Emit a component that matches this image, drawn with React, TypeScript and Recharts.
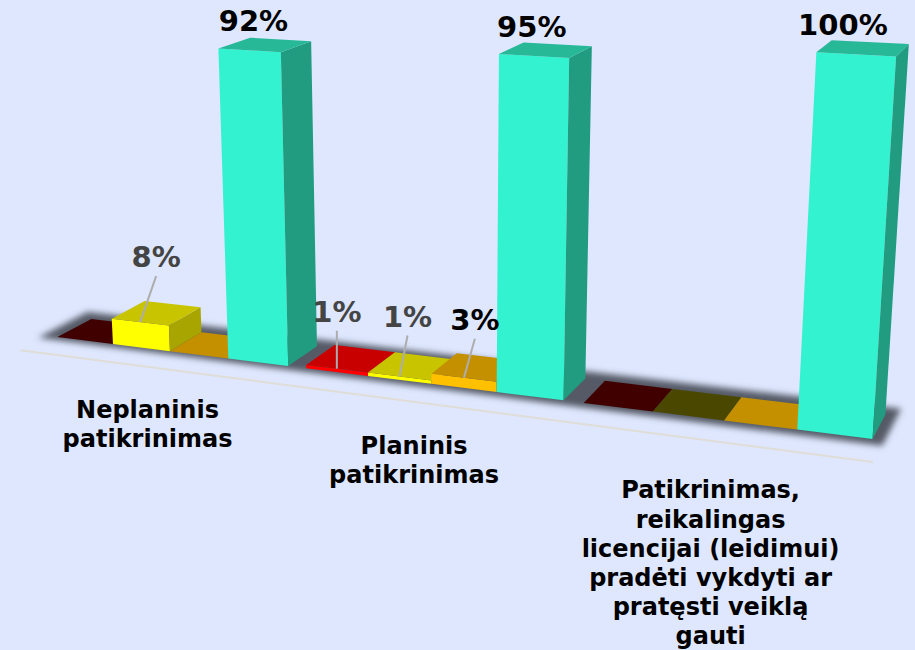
import { BarChart, Bar, XAxis, YAxis, LabelList } from "recharts";

const categories = ["Neplaninis patikrinimas", "Planinis patikrinimas", "Patikrinimas gauti"];
const categoryLines = [
  ["Neplaninis", "patikrinimas"],
  ["Planinis", "patikrinimas"],
  ["Patikrinimas,", "reikalingas", "licencijai (leidimui)", "pradėti vykdyti ar", "pratęsti veiklą", "gauti"],
];
const redValues = [0, 1, 0];
const yellowValues = [8, 1, 0];
const amberValues = [0, 3, 0];
const tealValues = [92, 95, 100];

const data = categories.map((name, i) => ({
  name,
  red: redValues[i],
  yellow: yellowValues[i],
  amber: amberValues[i],
  teal: tealValues[i],
}));

const WIDTH = 915;
const HEIGHT = 650;
const BAR_SIZE = 71;
const LEFT_PAD = (WIDTH / 3 - 4 * BAR_SIZE) / 2;

// vanishing points of the 3d look, taken from the bar edges
const VP_U = [-4500, -233];
const VP_H = [450, 7300];
const VP_D = [1262, -302];
const ORIGIN = [57, 337];
const U_RATE = -1.697e-4;
const H_RATE = -6.9e-5;
const BAR_DEPTH = 0.029;

function project(u: number, h: number, d: number) {
  const t = u * U_RATE;
  const s = h * H_RATE;
  const w = 1 + t + s + d;
  return {
    x: (ORIGIN[0] + t * VP_U[0] + s * VP_H[0] + d * VP_D[0]) / w,
    y: (ORIGIN[1] + t * VP_U[1] + s * VP_H[1] + d * VP_D[1]) / w,
  };
}

const pts = (list: { x: number; y: number }[]) => list.map((p) => `${p.x},${p.y}`).join(" ");

const palette = {
  red: { front: "#ff0000", top: "#c80000", side: "#a80000", zero: "#400000" },
  yellow: { front: "#ffff00", top: "#c8c400", side: "#a8a400", zero: "#4a4800" },
  amber: { front: "#ffc000", top: "#c49000", side: "#a88000", zero: "#c49000" },
  teal: { front: "#33f2cf", top: "#27b898", side: "#219c80", zero: "#27b898" },
};
type SeriesKey = keyof typeof palette;

function Bar3D(props: any) {
  const { x, width, height, series } = props;
  const c = palette[series as SeriesKey];
  const u0 = x - LEFT_PAD;
  const u1 = u0 + width;
  const h = height;
  const a = project(u0, h, 0);
  const b = project(u1, h, 0);
  const e = project(u1, h, BAR_DEPTH);
  const f = project(u0, h, BAR_DEPTH);
  if (!h) {
    return <polygon points={pts([a, b, e, f])} fill={c.zero} />;
  }
  const a0 = project(u0, 0, 0);
  const b0 = project(u1, 0, 0);
  const e0 = project(u1, 0, BAR_DEPTH);
  return (
    <g>
      <polygon points={pts([a0, b0, b, a])} fill={c.front} />
      <polygon points={pts([b0, e0, e, b])} fill={c.side} />
      <polygon points={pts([a, b, e, f])} fill={c.top} />
    </g>
  );
}

// leader line end relative to the bar's front top edge: dx, rise
const leaders: Record<string, number[]> = {
  "yellow-8": [16, 46],
  "red-1": [0, 38],
  "yellow-1": [8, 41],
  "amber-3": [11, 39],
};
// the big labels drift left of the bar centre further along the floor
const tealLabelShift: Record<number, number> = { 92: 4, 95: -2, 100: -13 };

function BarLabel(props: any) {
  const { x, width, height, value, series } = props;
  if (!value) return null;
  const u = x - LEFT_PAD + width / 2;
  const top = project(u, height, 0);
  const lead = leaders[`${series}-${value}`];
  const dark = series === "teal" || series === "amber";
  const tx = lead ? top.x + lead[0] : top.x + (tealLabelShift[value] ?? 0);
  const ty = lead ? top.y - lead[1] - 9 : top.y - 19;
  return (
    <g>
      {lead && <line x1={top.x} y1={top.y} x2={tx} y2={top.y - lead[1]} stroke="#adadad" strokeWidth={2} />}
      <text
        x={tx}
        y={ty}
        textAnchor="middle"
        fontFamily="DejaVu Sans"
        fontWeight="bold"
        fontSize={29}
        fill={dark ? "#000000" : "#444444"}
      >
        {value}%
      </text>
    </g>
  );
}

const tickShift = [
  [-22, 59],
  [-17, 62],
  [-13, 70],
];

function CategoryTick(props: any) {
  const { x, index } = props;
  const base = project(x - LEFT_PAD, 0, 0);
  const lines = categoryLines[index];
  return (
    <text
      x={base.x + tickShift[index][0]}
      y={base.y + tickShift[index][1] + 8}
      textAnchor="middle"
      fontFamily="DejaVu Sans"
      fontWeight="bold"
      fontSize={24}
      fill="#000000"
    >
      {lines.map((line, i) => (
        <tspan key={i} x={base.x + tickShift[index][0]} dy={i === 0 ? 0 : 29.2}>
          {line}
        </tspan>
      ))}
    </text>
  );
}

function Floor() {
  const floor = [
    project(-18, 0, -0.004),
    project(-18, 0, 0.038),
    project(906, 0, 0.038),
    project(906, 0, -0.006),
  ];
  const lineA = project(-12, 0, -0.022);
  const lineB = project(905, 0, -0.024);
  return (
    <g>
      <defs>
        <filter id="floorBlur" x="-5%" y="-30%" width="110%" height="160%">
          <feGaussianBlur stdDeviation="3" />
        </filter>
      </defs>
      <polygon points={pts(floor)} fill="#555a66" filter="url(#floorBlur)" />
      <line x1={lineA.x} y1={lineA.y} x2={lineB.x} y2={lineB.y} stroke="#dfddd6" strokeWidth={2} />
    </g>
  );
}

export default function App() {
  const seriesKeys: SeriesKey[] = ["red", "yellow", "amber", "teal"];
  return (
    <div style={{ position: "absolute", left: 0, top: 0, width: WIDTH, height: HEIGHT, background: "#dee7fe", overflow: "hidden" }}>
      <BarChart
        width={WIDTH}
        height={HEIGHT}
        data={data}
        margin={{ top: 0, right: 0, bottom: 0, left: 0 }}
        barGap={0}
        barSize={BAR_SIZE}
      >
        <Floor />
        <XAxis dataKey="name" height={1} axisLine={false} tickLine={false} interval={0} tick={<CategoryTick />} />
        <YAxis hide domain={[0, 100]} />
        {seriesKeys.map((key) => (
          <Bar
            key={key}
            dataKey={key}
            isAnimationActive={false}
            shape={(p: any) => <Bar3D {...p} series={key} />}
          >
            <LabelList dataKey={key} content={(p: any) => <BarLabel {...p} series={key} />} />
          </Bar>
        ))}
      </BarChart>
    </div>
  );
}
